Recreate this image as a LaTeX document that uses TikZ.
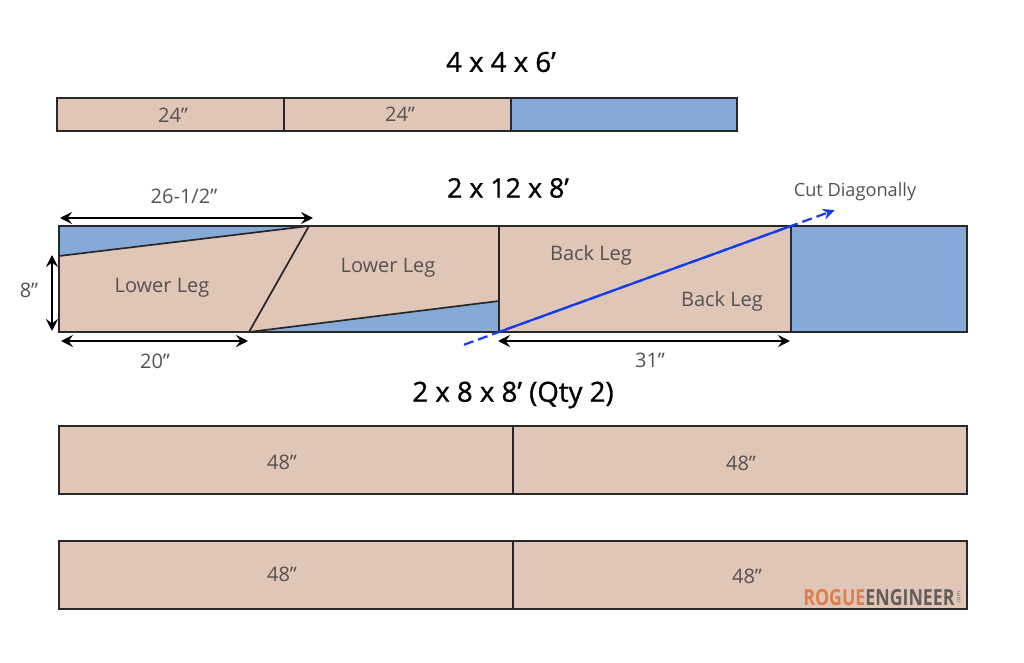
\documentclass[tikz,border=0pt]{standalone}
\usepackage{fontspec}
\setmainfont{Open Sans}
\usepackage{xcolor}
\usetikzlibrary{arrows, arrows.meta}
\usetikzlibrary{calc}
\definecolor{woodtan}{RGB}{223,198,182}
\definecolor{scrapblue}{RGB}{133,170,216}
\definecolor{cutblue}{RGB}{20,60,235}
\definecolor{edgegray}{RGB}{40,40,40}
\definecolor{labelgray}{RGB}{85,82,80}
\definecolor{logoorange}{RGB}{224,125,78}
\definecolor{logogray}{RGB}{100,95,90}
\begin{document}
\begin{tikzpicture}[x=0.5pt,y=-0.5pt,
		wood/.style={fill=woodtan,draw=edgegray,line width=0.85pt},
		scrap/.style={fill=scrapblue,draw=edgegray,line width=0.85pt},
		cutline/.style={draw=black!85,line width=0.85pt},
		dimen/.style={{Stealth[length=6pt,width=6pt,inset=2.2pt]}-{Stealth[length=6pt,width=6pt,inset=2.2pt]},black,line width=0.9pt},
		title/.style={text=black,font=\fontsize{13.8}{16}\selectfont\addfontfeature{FakeBold=1}},
		label/.style={text=labelgray,font=\fontsize{10}{12}\selectfont}]
	\useasboundingbox (0,0) rectangle (1024,663);
	% board one
	\coordinate (onea) at (57,98);
	\coordinate (oneb) at (737,131);
	\filldraw[wood] (57,98) rectangle (511,131);
	\filldraw[scrap] (511,98) rectangle (oneb);
	\draw[cutline] (284,98) -- (284,131);
	\node[title] (onetitle) at (501,62) {4 x 4 x 6’};
	\node[label] (onel) at (173,115) {24”};
	\node[label] (oner) at (400,114) {24”};
	% board two
	\coordinate (twotl) at (59,226);
	\coordinate (twobl) at (59,332);
	\coordinate (twotop) at (309,226);
	\coordinate (twobot) at (249,332);
	\coordinate (twoleft) at (59,256);
	\coordinate (tworight) at (499,301);
	\coordinate (backtl) at (499,226);
	\coordinate (backbl) at (499,332);
	\coordinate (backtr) at (791,226);
	\coordinate (backbr) at (791,332);
	\coordinate (twotr) at (967,226);
	\coordinate (twobr) at (967,332);
	\filldraw[wood] (twotl) rectangle (backbr);
	\filldraw[scrap] (backtr) rectangle (twobr);
	\filldraw[scrap] (twotl) -- (twotop) -- (twoleft) -- cycle;
	\filldraw[scrap] (twobot) -- (backbl) -- (tworight) -- cycle;
	\draw[cutline] (twotop) -- (twobot);
	\draw[cutline] (backtl) -- (backbl);
	\node[title,font=\fontsize{13.4}{16}\selectfont\addfontfeature{FakeBold=1}] (twotitle) at (508,188) {2 x 12 x 8’};
	\node[label] (legone) at (162,288) {Lower Leg};
	\node[label] (legtwo) at (388,268) {Lower Leg};
	\node[label] (backone) at (591,255) {Back Leg};
	\node[label] (backtwo) at (722,301) {Back Leg};
	\node[label,font=\fontsize{9.1}{11}\selectfont] (cutlabel) at (855,192) {Cut Diagonally};
	% diagonal cut
	\coordinate (cutstart) at ($(backbl)!-0.12!(backtr)$);
	\coordinate (cutend) at ($(backbl)!1.15!(backtr)$);
	\draw[cutblue,line width=1.1pt,dashed,dash pattern=on 5pt off 2.5pt,-{Stealth[length=6pt,width=5.5pt,inset=2pt]}] (cutstart) -- (cutend);
	\draw[cutblue,line width=1.1pt] (backbl) -- (backtr);
	% dimensions
	\coordinate (dimtopa) at (60,218);
	\coordinate (dimtopb) at (313,218);
	\coordinate (dimlefta) at (52,255);
	\coordinate (dimleftb) at (52,331);
	\coordinate (dimbota) at (61,341);
	\coordinate (dimbotb) at (248,341);
	\coordinate (dimbacka) at (498,341);
	\coordinate (dimbackb) at (790,341);
	\draw[dimen] (dimtopa) -- (dimtopb);
	\draw[dimen] (dimlefta) -- (dimleftb);
	\draw[dimen] (dimbota) -- (dimbotb);
	\draw[dimen] (dimbacka) -- (dimbackb);
	\node[label] (dimtop) at (184,196) {26-1/2”};
	\node[label] (dimleft) at (29,290) {8”};
	\node[label] (dimbot) at (155,361) {20”};
	\node[label] (dimback) at (650,360) {31”};
	% boards three and four
	\node[title] (threetitle) at (513,395) {2 x 8 x 8’ (Qty 2)};
	\foreach \ytop/\ybot/\yl/\xr/\yr in {426/494/462/741/463,541/609/574/747/576}{
		\filldraw[wood] (59,\ytop) rectangle (967,\ybot);
		\draw[cutline] (513,\ytop) -- (513,\ybot);
		\node[label] at (282,\yl) {48”};
		\node[label] at (\xr,\yr) {48”};
	}
	% logo
	\node[inner sep=0pt,anchor=east,font=\fontsize{11.1}{12}\selectfont\bfseries] (logo) at (955,598) {\addfontfeature{FakeStretch=0.8}\color{logoorange}ROGUE\color{logogray}ENGINEER};
	\node[inner sep=0pt,rotate=90,text=logogray,font=\fontsize{2.8}{3}\selectfont] (logocom) at (959,598) {.com};
\end{tikzpicture}
\end{document}
